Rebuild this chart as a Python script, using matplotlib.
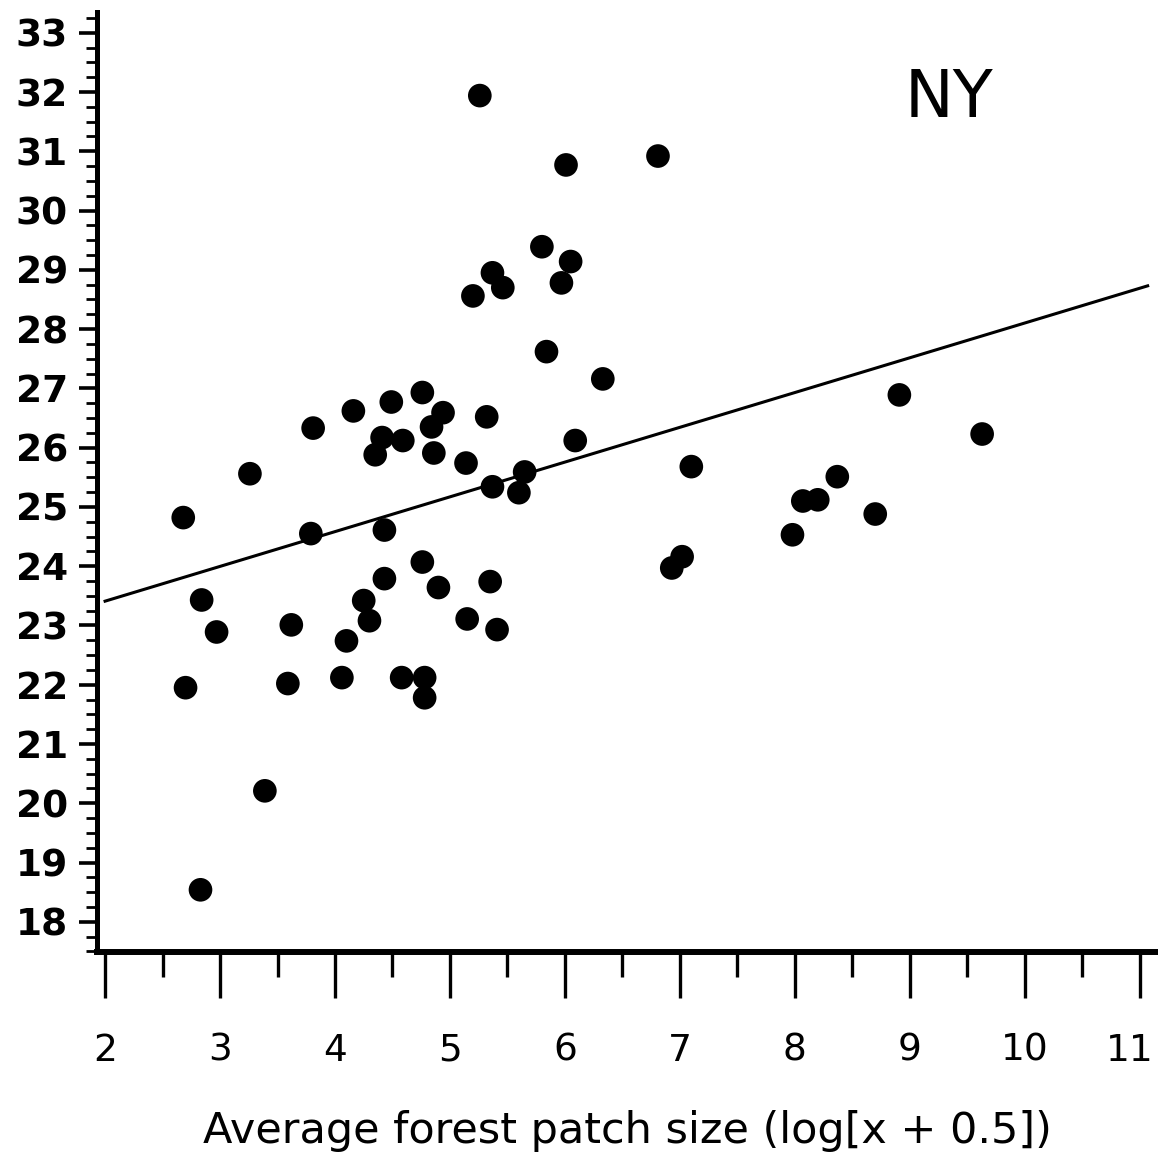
import matplotlib
matplotlib.use("Agg")
import matplotlib.pyplot as plt
from matplotlib.ticker import MultipleLocator
from matplotlib.transforms import ScaledTranslation

# average forest patch size (log[x + 0.5]) and the value on the y axis, NY sites
patch_size = [5.26, 6.01, 6.81, 5.80, 6.05, 5.37, 5.46, 5.20, 5.97, 5.84,
              6.33, 5.32, 6.09, 4.76, 4.49, 4.16, 3.81, 4.84, 4.94, 3.26,
              2.68, 4.35, 4.41, 4.59, 4.86, 5.14, 5.37, 5.65, 5.60, 3.79,
              4.43, 7.10, 8.37, 8.20, 8.07, 7.98, 8.70, 8.91, 9.63, 7.02,
              6.93, 4.76, 4.43, 5.35, 4.90, 4.25, 4.30, 2.84, 2.97, 3.62,
              5.15, 5.41, 4.10, 2.70, 3.59, 4.06, 4.58, 4.78, 4.78, 3.39,
              2.83]
richness = [31.94, 30.77, 30.92, 29.39, 29.14, 28.95, 28.70, 28.56, 28.78, 27.62,
            27.16, 26.52, 26.12, 26.93, 26.77, 26.62, 26.33, 26.35, 26.59, 25.56,
            24.82, 25.88, 26.17, 26.12, 25.91, 25.74, 25.34, 25.59, 25.24, 24.55,
            24.61, 25.68, 25.51, 25.12, 25.10, 24.53, 24.88, 26.89, 26.23, 24.16,
            23.97, 24.07, 23.79, 23.74, 23.64, 23.42, 23.08, 23.43, 22.89, 23.01,
            23.11, 22.93, 22.74, 21.95, 22.02, 22.12, 22.12, 22.12, 21.78, 20.21,
            18.54]

# regression line, end points
fit_x = [2.0, 11.07]
fit_y = [23.41, 28.73]

x_ticks = list(range(2, 12))
y_ticks = list(range(18, 34))
panel = "NY"
x_title = "Average forest patch size (log[x + 0.5])"

fig = plt.figure(figsize=(11.58, 11.67), dpi=100)
ax = fig.add_axes([0.0838, 0.1842, 0.9162, 0.8055])

ax.scatter(patch_size, richness, s=290, c="black", edgecolors="none", zorder=3)
ax.plot(fit_x, fit_y, color="black", lw=2.2, zorder=2)

ax.set_xlim(1.93, 11.16)
ax.set_ylim(17.49, 33.35)

ax.set_xticks(x_ticks)
ax.set_yticks(y_ticks)
ax.xaxis.set_minor_locator(MultipleLocator(0.5))
ax.yaxis.set_minor_locator(MultipleLocator(0.25))

for side in ["top", "right"]:
    ax.spines[side].set_visible(False)
ax.spines["left"].set_linewidth(3.6)
ax.spines["bottom"].set_linewidth(4.3)

ax.tick_params(axis="x", which="major", direction="out", length=33, width=2.4,
               pad=25, labelsize=27)
ax.tick_params(axis="x", which="minor", direction="out", length=18, width=2.4)
ax.tick_params(axis="y", which="major", direction="out", length=13, width=2.6,
               pad=8, labelsize=27)
ax.tick_params(axis="y", which="minor", direction="out", length=8, width=2.0)
for lab in ax.get_yticklabels():
    lab.set_fontweight("bold")

# last x label sits at the figure edge: right-align it so it is not cut
last = ax.get_xticklabels()[-1]
last.set_horizontalalignment("right")
last.set_transform(last.get_transform() + ScaledTranslation(10 / 72, 0, fig.dpi_scale_trans))

ax.set_xlabel(x_title, fontsize=31, labelpad=30)
ax.text(9.34, 31.89, panel, fontsize=47, ha="center", va="center")

fig.savefig("out.png", dpi=100)
